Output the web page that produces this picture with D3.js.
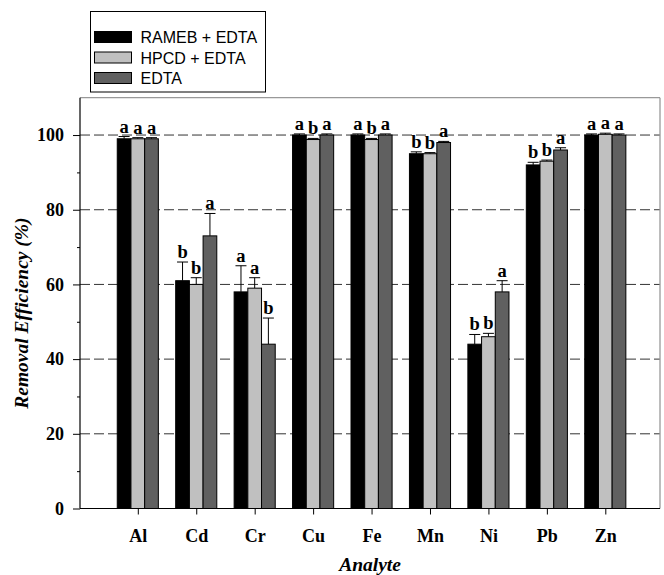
<!DOCTYPE html>
<html>
<head>
<meta charset="utf-8">
<script src="https://cdn.jsdelivr.net/npm/d3@7"></script>
<style>
  html, body { margin: 0; padding: 0; background: #fff; }
  svg { display: block; }
</style>
</head>
<body>
<svg id="chart" width="664" height="575"></svg>
<script>
// ---- data ----
const categories = ["Al", "Cd", "Cr", "Cu", "Fe", "Mn", "Ni", "Pb", "Zn"];
const seriesNames = ["RAMEB + EDTA", "HPCD + EDTA", "EDTA"];
const ramebValues = [99, 61, 58, 100, 100, 95, 44, 92, 100];
const ramebErrors = [0.6, 5, 7, 0.3, 0.3, 0.5, 2.6, 0.7, 0.3];
const hpcdValues  = [99, 60, 59, 98.8, 98.8, 95, 46, 93, 100.2];
const hpcdErrors  = [0.3, 1.8, 2.8, 0.3, 0.3, 0.3, 0.9, 0.3, 0.3];
const edtaValues  = [99, 73, 44, 100, 100, 98, 58, 96, 100];
const edtaErrors  = [0.3, 6, 7, 0.3, 0.3, 0.3, 3, 0.6, 0.3];
const ramebLetters = ["a", "b", "a", "a", "a", "b", "b", "b", "a"];
const hpcdLetters  = ["a", "b", "a", "b", "b", "b", "b", "b", "a"];
const edtaLetters  = ["a", "a", "b", "a", "a", "a", "a", "a", "a"];
const yMajorTicks = [0, 20, 40, 60, 80, 100];
const yMinorTicks = [10, 30, 50, 70, 90];
const gridValues = [20, 40, 60, 80, 100];
const yTitle = "Removal Efficiency (%)";
const xTitle = "Analyte";

const seriesColors = ["#000000", "#c0c0c0", "#606060"];
const series = [
  { values: ramebValues, errors: ramebErrors, letters: ramebLetters },
  { values: hpcdValues,  errors: hpcdErrors,  letters: hpcdLetters },
  { values: edtaValues,  errors: edtaErrors,  letters: edtaLetters }
];

// ---- layout ----
const pLeft = 80, pRight = 660, pTop = 97.7, pBottom = 508.5;
const barW = 13.7;
const serif = "'Liberation Serif', 'Times New Roman', serif";
const sans = "'Liberation Sans', Arial, sans-serif";

const svg = d3.select("#chart");
const x = d3.scalePoint().domain(categories).range([137.8, 605.3]);
const y = d3.scaleLinear().domain([0, 110]).range([pBottom, pTop]);

// grid lines (dashed)
svg.append("g").selectAll("line").data(gridValues).join("line")
  .attr("x1", pLeft).attr("x2", pRight)
  .attr("y1", d => y(d)).attr("y2", d => y(d))
  .attr("stroke", "#333").attr("stroke-width", 1)
  .attr("stroke-dasharray", "10,4");

// frame: top & right gray
svg.append("line").attr("x1", pLeft).attr("x2", pRight).attr("y1", pTop).attr("y2", pTop)
  .attr("stroke", "#999").attr("stroke-width", 1.3);
svg.append("line").attr("x1", pRight).attr("x2", pRight).attr("y1", pTop).attr("y2", pBottom)
  .attr("stroke", "#999").attr("stroke-width", 1.3);

// bars, error bars, letters
series.forEach((s, si) => {
  const off = (si - 1) * barW;
  const g = svg.append("g");
  g.selectAll("line.err").data(categories).join("line")
    .attr("class", "err")
    .attr("x1", d => x(d) + off).attr("x2", d => x(d) + off)
    .attr("y1", (d, i) => y(s.values[i]))
    .attr("y2", (d, i) => y(s.values[i] + s.errors[i]))
    .attr("stroke", "#000").attr("stroke-width", 1);
  g.selectAll("line.cap").data(categories).join("line")
    .attr("class", "cap")
    .attr("x1", d => x(d) + off - 5.5).attr("x2", d => x(d) + off + 5.5)
    .attr("y1", (d, i) => y(s.values[i] + s.errors[i]))
    .attr("y2", (d, i) => y(s.values[i] + s.errors[i]))
    .attr("stroke", "#000").attr("stroke-width", 1);
  g.selectAll("rect").data(categories).join("rect")
    .attr("x", d => x(d) + off - barW / 2)
    .attr("width", barW)
    .attr("y", (d, i) => y(s.values[i]))
    .attr("height", (d, i) => pBottom - y(s.values[i]))
    .attr("fill", seriesColors[si])
    .attr("stroke", "#000").attr("stroke-width", 1);
  g.selectAll("text").data(categories).join("text")
    .attr("x", d => x(d) + off)
    .attr("y", (d, i) => y(s.values[i] + s.errors[i]) - 4)
    .attr("text-anchor", "middle")
    .attr("font-family", serif).attr("font-weight", "bold").attr("font-size", 18.5)
    .text((d, i) => s.letters[i]);
});

// y axis
const yAxis = svg.append("g").attr("transform", `translate(${pLeft},0)`)
  .call(d3.axisLeft(y).tickValues(yMajorTicks).tickSize(7).tickPadding(9).tickFormat(d3.format("d")));
yAxis.select(".domain").remove();
yAxis.selectAll("text").attr("font-family", serif).attr("font-weight", "bold").attr("font-size", 18).attr("fill", "#000");
const yMinor = svg.append("g").attr("transform", `translate(${pLeft},0)`)
  .call(d3.axisLeft(y).tickValues(yMinorTicks).tickSize(3).tickFormat(""));
yMinor.select(".domain").remove();
svg.append("line").attr("x1", pLeft).attr("x2", pLeft).attr("y1", pTop).attr("y2", pBottom)
  .attr("stroke", "#000").attr("stroke-width", 1.2);

// x axis
const xAxis = svg.append("g").attr("transform", `translate(0,${pBottom})`)
  .call(d3.axisBottom(x).tickSize(6).tickPadding(15));
xAxis.select(".domain").remove();
xAxis.selectAll("text").attr("font-family", serif).attr("font-weight", "bold").attr("font-size", 18).attr("fill", "#000");
svg.append("line").attr("x1", pLeft).attr("x2", pRight).attr("y1", pBottom).attr("y2", pBottom)
  .attr("stroke", "#000").attr("stroke-width", 1.2);

// axis titles
svg.append("text")
  .attr("transform", `translate(28,${(pTop + pBottom) / 2 + 10}) rotate(-90)`)
  .attr("text-anchor", "middle")
  .attr("font-family", serif).attr("font-weight", "bold").attr("font-style", "italic").attr("font-size", 19.5)
  .text(yTitle);
svg.append("text")
  .attr("x", (pLeft + pRight) / 2).attr("y", 571)
  .attr("text-anchor", "middle")
  .attr("font-family", serif).attr("font-weight", "bold").attr("font-style", "italic").attr("font-size", 19.5)
  .text(xTitle);

// legend
const legend = svg.append("g");
legend.append("rect").attr("x", 90.5).attr("y", 11.5).attr("width", 175).attr("height", 80.5)
  .attr("fill", "#fff").attr("stroke", "#000").attr("stroke-width", 1);
const legY = [37, 57.5, 78];
seriesNames.forEach((name, i) => {
  legend.append("rect").attr("x", 94.5).attr("y", legY[i] - 5.5).attr("width", 37).attr("height", 11)
    .attr("fill", seriesColors[i]).attr("stroke", "#000").attr("stroke-width", 1);
  legend.append("text").attr("x", 140.5).attr("y", legY[i] + 6)
    .attr("font-family", sans).attr("font-size", 16).attr("fill", "#000")
    .text(name);
});
</script>
</body>
</html>
